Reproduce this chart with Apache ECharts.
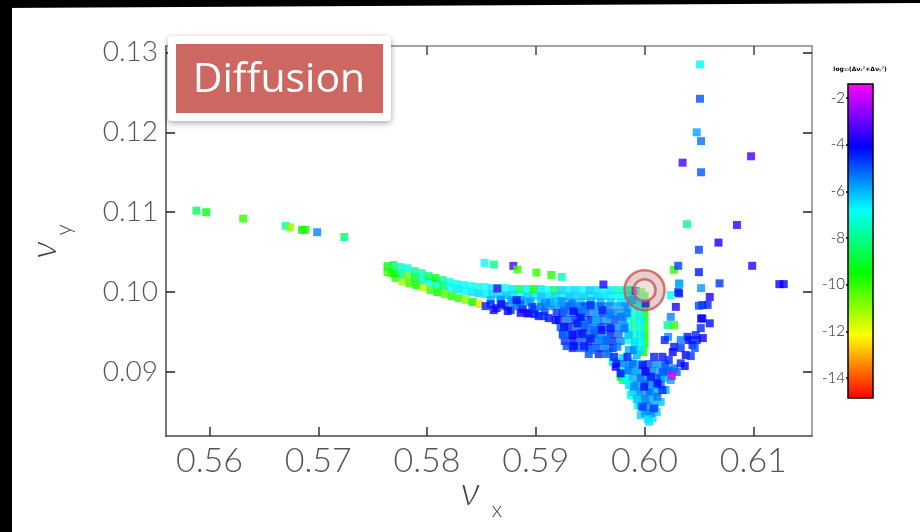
<!DOCTYPE html>
<html><head><meta charset="utf-8">
<script src="https://cdn.jsdelivr.net/npm/echarts@6/dist/echarts.min.js"></script>
<style>html,body{margin:0;padding:0;background:#fff}#c{width:920px;height:532px}</style>
</head><body><div id="c"></div>
<script>
// ---- tick labels ----
const xTicks = [0.56, 0.57, 0.58, 0.59, 0.60, 0.61];
const yTicks = [0.09, 0.10, 0.11, 0.12, 0.13];
const cbTicks = [-14, -12, -10, -8, -6, -4, -2];
const titleText = 'Diffusion';

// ---- data: [nu_x, nu_y, log10(dnu_x^2+dnu_y^2)] ----
const tailPts = [
  [0.5588,0.1102,-8.5],[0.5597,0.1100,-9.2],[0.5631,0.1092,-10],[0.5670,0.1083,-7.5],[0.5674,0.1081,-11],
  [0.5685,0.1078,-9.5],[0.5688,0.1078,-9.6],[0.5699,0.1075,-5.5],[0.5724,0.1069,-8.3]
];
const bandRowA = [
  [0.57637,0.10325,-9.5],[0.57693,0.10338,-8.5],[0.57757,0.10313,-7.5],[0.57821,0.1030,-7],[0.57886,0.10263,-8],
  [0.5795,0.10238,-7.5],[0.58015,0.102,-8.5],[0.58079,0.10175,-9.5],[0.58143,0.1015,-8],[0.58208,0.10125,-7],
  [0.58272,0.101,-6.8],[0.58336,0.10088,-7],[0.58401,0.10075,-6.8],[0.58465,0.10063,-7.2],[0.5853,0.10063,-6.8],
  [0.58594,0.1005,-6.5],[0.58658,0.1005,-7.5],[0.58723,0.1005,-6.8],[0.58787,0.10038,-6.5],[0.58852,0.10038,-8.5],
  [0.58916,0.10038,-6.7],[0.5898,0.10038,-9.5],[0.59045,0.10038,-6.5],[0.5911,0.10025,-6.8],[0.59174,0.10025,-8.5],
  [0.59238,0.10025,-6.3],[0.59303,0.10025,-6.6],[0.59367,0.10025,-6.4],[0.59432,0.10025,-6.8],[0.59496,0.10025,-6.2],
  [0.5956,0.10025,-6.5],[0.59625,0.10025,-7],[0.59689,0.10025,-6.5],[0.59754,0.10025,-7.5],[0.59818,0.10025,-7],
  [0.59882,0.10025,-8]
];
const bandRowB = [
  [0.57637,0.1025,-10],[0.57702,0.10238,-9.5],[0.57766,0.10225,-8],[0.57831,0.102,-10.5],[0.57895,0.10175,-9],
  [0.5796,0.1015,-7.5],[0.58024,0.10125,-7],[0.58088,0.101,-7.5],[0.58153,0.10075,-8.5],[0.58217,0.1005,-7],
  [0.58282,0.10038,-6.5],[0.58346,0.10013,-6.8],[0.5841,0.1,-6.5],[0.58475,0.09988,-6.3],[0.58539,0.09975,-6.6],
  [0.58604,0.09975,-6.2],[0.58668,0.09963,-6.5],[0.58732,0.09963,-6],[0.58797,0.09963,-6.4],[0.58861,0.09963,-6.8],
  [0.58926,0.0995,-6.2],[0.5899,0.0995,-6.5],[0.59054,0.0995,-6],[0.59119,0.0995,-6.4],[0.59183,0.0995,-6.2],
  [0.59248,0.0995,-6.6],[0.59312,0.0995,-6],[0.59376,0.0995,-6.3],[0.59441,0.0995,-6.1],[0.59505,0.0995,-6.5],
  [0.5957,0.0995,-6.2],[0.59634,0.0995,-6.4],[0.59698,0.0995,-6.6],[0.59763,0.0995,-6.8],[0.59827,0.0995,-7],
  [0.59892,0.0995,-6.5]
];
const bandRowC = [
  [0.57711,0.10175,-10],[0.57776,0.10138,-11],[0.5784,0.10113,-10],[0.57904,0.10088,-9.5],[0.57969,0.10063,-11.5],
  [0.58033,0.10025,-10],[0.58098,0.1,-9.5],[0.58162,0.09975,-10.5],[0.58226,0.0995,-9.8],[0.58291,0.09925,-10],
  [0.58355,0.099,-11],[0.5842,0.09875,-9.5],[0.58484,0.0985,-12.5],[0.5767,0.1024,-10.5]
];
const bandRowD = [
  [0.58585,0.099,-6],[0.58677,0.09913,-6.2],[0.58769,0.099,-6],[0.58861,0.099,-5.8],[0.58953,0.09888,-6],
  [0.59045,0.09888,-6.3],[0.59137,0.09875,-6],[0.59229,0.09888,-5.8],[0.59321,0.09875,-6],[0.59413,0.09875,-6.2],
  [0.59505,0.09888,-6],[0.59597,0.09875,-6],[0.59689,0.09875,-6.3],[0.59781,0.09875,-6.5],[0.59873,0.09875,-6.8],
  [0.59947,0.099,-7]
];
const aboveBandPts = [
  [0.5853,0.10366,-6.8],[0.58615,0.10346,-8],[0.58794,0.10329,-3.3],[0.58831,0.10284,-10],[0.59006,0.10246,-10],
  [0.59144,0.10216,-9.8],[0.59238,0.10191,-7.5],[0.58647,0.10046,-3.3],[0.59622,0.10096,-3.7]
];
const stemGreenPts = [
  [0.6000,0.0995,-9.5],[0.6000,0.0985,-10],[0.6000,0.0975,-9.5],[0.6000,0.0965,-9],[0.6000,0.0955,-9.8],
  [0.6000,0.0945,-9.5],[0.6000,0.0935,-9.2],[0.5999,0.0925,-9.6]
];
const stemPts = [
  [0.5985,0.099,-6.5],[0.5985,0.098,-6],[0.5985,0.097,-6.5],[0.5985,0.096,-7],[0.5985,0.095,-6.5],[0.5985,0.094,-7],
  [0.5991,0.099,-6.8],[0.5991,0.098,-7],[0.5991,0.097,-7.5],[0.5991,0.096,-8],[0.5991,0.095,-7.5],[0.5991,0.094,-8],
  [0.5996,0.0993,-6.6],[0.5996,0.0985,-7],[0.5996,0.0977,-6.8],[0.5996,0.0969,-7.2],[0.5996,0.0961,-6.7],
  [0.5996,0.0953,-7],[0.5996,0.0945,-6.6],[0.5996,0.0937,-6.9],[0.5991,0.093,-7.2]
];
const vFillPts = [
  [0.59873,0.08838,-6.5],[0.59947,0.0875,-6],[0.60011,0.0865,-5.8],[0.60057,0.0875,-6],[0.60103,0.08838,-5.5],
  [0.59965,0.08925,-6.2],[0.60039,0.08863,-5.7],[0.60149,0.08925,-5.5],[0.60204,0.09,-6],[0.59919,0.09,-6.8],
  [0.59855,0.09075,-7.2],[0.59965,0.08463,-6.3],[0.60075,0.08425,-6.5],[0.60241,0.089,-5.8],[0.60195,0.08775,-6],
  [0.60149,0.08625,-6.2],[0.60112,0.085,-6.3],[0.5967,0.0925,-6.8],[0.59707,0.09125,-6.5],[0.598,0.089,-8],
  [0.59873,0.08713,-6.8],[0.59937,0.08588,-7],[0.59843,0.089,-7.5],[0.59781,0.08941,-9.5],[0.59935,0.08691,-6.5],
  [0.60026,0.08484,-5.5],[0.60042,0.08379,-6.5],
  [0.59744,0.09125,-6.4],[0.598,0.09175,-6.3],[0.59836,0.09025,-6.6],[0.59855,0.09463,-6.2],[0.5991,0.09375,-6.5],
  [0.59855,0.09275,-5.9],[0.59892,0.09125,-6.8],[0.59928,0.09213,-6.0]
];
const blobPts = [
  [0.58585,0.0985,-4.6],[0.5864,0.098,-4.2],[0.58714,0.09825,-5.0],[0.58769,0.09775,-4.4],[0.58824,0.09825,-5.3],
  [0.5888,0.09788,-4.1],[0.58935,0.09738,-4.5],[0.5899,0.09788,-5.2],[0.59027,0.097,-4.3],[0.59082,0.09763,-4.8],
  [0.59119,0.09675,-4.2],[0.59156,0.09825,-5.5],[0.59192,0.09738,-4.6],[0.58788,0.09875,-5.6],[0.58935,0.09875,-5.8],
  [0.59082,0.09863,-5.6],[0.58677,0.099,-5.7],[0.58861,0.0985,-5.1],
  [0.59229,0.09825,-5.5],[0.59303,0.09825,-4.8],[0.59376,0.09825,-5.4],[0.5945,0.09825,-4.6],[0.59524,0.09825,-5.7],
  [0.59597,0.09825,-5.1],[0.59671,0.09825,-5.5],[0.59744,0.09825,-5.9],[0.59818,0.09825,-5.6],
  [0.59248,0.09738,-4.5],[0.59321,0.09738,-5.3],[0.59395,0.09738,-4.3],[0.59468,0.09738,-5.1],[0.59542,0.09738,-5.5],
  [0.59616,0.09738,-4.6],[0.59689,0.09738,-5.2],[0.59763,0.09738,-5.7],[0.59836,0.09738,-5.4],
  [0.5921,0.0965,-4.3],[0.59285,0.0965,-5.2],[0.59358,0.0965,-4.6],[0.59432,0.0965,-5.4],[0.59505,0.0965,-4.2],
  [0.59579,0.0965,-5.0],[0.59652,0.0965,-5.6],[0.59726,0.0965,-4.8],[0.598,0.0965,-5.5],
  [0.59229,0.09563,-4.9],[0.59303,0.09563,-4.3],[0.59376,0.09563,-5.2],[0.5945,0.09563,-4.5],[0.59524,0.09563,-5.3],
  [0.59597,0.09563,-4.5],[0.59671,0.09563,-5.0],[0.59744,0.09563,-5.6],[0.59818,0.09563,-5.8],
  [0.59248,0.09475,-4.4],[0.59321,0.09475,-5.0],[0.59395,0.09475,-4.2],[0.59468,0.09475,-5.1],[0.59542,0.09475,-4.6],
  [0.59616,0.09475,-5.4],[0.59689,0.09475,-4.4],[0.59763,0.09475,-5.2],
  [0.59266,0.09388,-4.6],[0.5934,0.09388,-4.2],[0.59413,0.09388,-4.9],[0.59487,0.09388,-4.4],[0.5956,0.09388,-5.2],
  [0.59634,0.09388,-4.8],[0.59708,0.09388,-4.5],[0.59781,0.09388,-5.5],
  [0.5934,0.093,-4.5],[0.59413,0.093,-5.1],[0.59487,0.093,-4.3],[0.5956,0.093,-4.8],[0.59634,0.093,-5.3],
  [0.59708,0.093,-4.4],[0.59487,0.09225,-4.9],[0.59579,0.09225,-4.5],[0.59652,0.09225,-5.1]
];
const vDensePts = [
  [0.59744,0.091,-4.4],[0.59818,0.091,-5.4],[0.59892,0.091,-5.0],[0.59965,0.091,-6.0],[0.60039,0.091,-4.8],
  [0.60112,0.091,-5.6],[0.60186,0.091,-5.0],
  [0.59781,0.09013,-6.8],[0.59855,0.09013,-5.2],[0.59928,0.09013,-5.8],[0.60002,0.09013,-4.6],[0.60076,0.09013,-5.4],
  [0.60149,0.09013,-5.9],[0.60223,0.09013,-4.9],
  [0.59818,0.08925,-7.0],[0.59892,0.08925,-5.9],[0.59965,0.08925,-5.2],[0.60039,0.08925,-5.6],[0.60112,0.08925,-4.8],
  [0.60186,0.08925,-6.0],
  [0.59855,0.08838,-6.6],[0.59928,0.08838,-5.6],[0.60002,0.08838,-5.0],[0.60076,0.08838,-5.8],[0.60149,0.08838,-5.2],
  [0.59892,0.0875,-6.4],[0.59965,0.0875,-5.7],[0.60039,0.0875,-5.1],[0.60112,0.0875,-5.9],
  [0.59928,0.08663,-6.2],[0.60002,0.08663,-5.5],[0.60076,0.08663,-5.8],
  [0.59965,0.08575,-6.0],[0.60039,0.08575,-5.3],[0.60094,0.08575,-6.2],
  [0.60002,0.08488,-5.8],[0.60057,0.08488,-5.5],[0.6003,0.08413,-6.5]
];
const clusterPts = [
  [0.58684,0.0985,-3.9],[0.58824,0.099,-4.2],[0.58861,0.09741,-4],[0.58923,0.09734,-3.9],[0.5899,0.09725,-4.3],
  [0.5907,0.097,-4.5],[0.58968,0.09816,-4.6],[0.59051,0.09816,-5.3],[0.59131,0.09866,-5.5],[0.59183,0.0965,-4.2],
  [0.5926,0.09566,-4.3],[0.59337,0.09463,-4.1],[0.59254,0.09463,-5.2],[0.59284,0.09325,-4.8],[0.59352,0.09325,-4.2],
  [0.59429,0.09484,-4.3],[0.59444,0.09325,-4.4],[0.59521,0.09275,-5.4],[0.59505,0.09421,-4.4],[0.59597,0.094,-5.5],
  [0.59659,0.094,-5.2],[0.59603,0.09525,-4.2],[0.59689,0.09546,-4.4],[0.59536,0.09525,-5.2],[0.59383,0.09609,-4.3],
  [0.59459,0.09609,-5.3],[0.59413,0.09691,-4.2],[0.59346,0.09766,-4.1],[0.5926,0.09775,-5.2],[0.59429,0.09775,-5.4],
  [0.59505,0.09838,-4.5],[0.59613,0.09775,-4.5],[0.59689,0.09713,-5.4],[0.59551,0.0965,-6],[0.59337,0.09859,-5.4],
  [0.59245,0.09879,-5.7],[0.59168,0.09879,-6.2],[0.59781,0.09691,-5.3],[0.59812,0.09546,-5.3],[0.59751,0.09316,-5.3],
  [0.5972,0.09191,-4.3],[0.59735,0.09066,-4],[0.59781,0.08984,-4.2],[0.59843,0.09191,-4.3],[0.59904,0.09275,-5.5],
  [0.59965,0.09275,-6.5],[0.59981,0.09088,-4.1],[0.60011,0.09004,-4],[0.60057,0.08941,-4.3],[0.60119,0.08859,-4],
  [0.60088,0.09191,-4.4],[0.60165,0.09191,-4.3],[0.60195,0.09066,-5.2],[0.60272,0.09046,-5.2],[0.60333,0.09109,-4.4],
  [0.60379,0.09213,-4],[0.60441,0.09338,-4.4],[0.60471,0.09463,-4.5],[0.60395,0.09441,-4.3],[0.60333,0.094,-5.4],
  [0.60272,0.09316,-4.4],[0.60217,0.09441,-5.6],[0.60272,0.09588,-10],[0.60211,0.09588,-8],[0.60288,0.09816,-3.8],
  [0.60241,0.09691,-5.5],[0.60318,0.09984,-4.3],[0.60318,0.10109,-5.7],[0.60241,0.09963,-6.8],[0.60532,0.09838,-4.5],
  [0.60532,0.09671,-4],[0.58539,0.09825,-4.4],[0.58613,0.09775,-3.9],[0.58742,0.09763,-4],
  [0.59981,0.08566,-4.6],[0.60088,0.08546,-4.7],[0.60119,0.08691,-5.3],[0.59996,0.08816,-4.3],[0.59904,0.08816,-5.5],
  [0.60165,0.08775,-4.5],[0.59919,0.10016,-4],[0.60011,0.09859,-4.2],[0.59888,0.099,-6],[0.5997,0.1,-10],
  [0.60186,0.094,-4.4],[0.6026,0.0925,-4.0],[0.60333,0.093,-4.6],[0.60407,0.094,-4.2],[0.60462,0.093,-5.0],
  [0.60223,0.0915,-4.5],[0.60296,0.09,-5.2],[0.6037,0.09075,-4.1],[0.60425,0.092,-4.6],[0.6048,0.094,-4.3],
  [0.60168,0.09,-5.0],[0.60517,0.0955,-4.5],[0.60536,0.09425,-4.0]
];
const outerPts = [
  [0.6051,0.1285,-7],[0.6051,0.1242,-5],[0.6048,0.1200,-5.8],[0.6052,0.1189,-5.3],[0.6035,0.1162,-3.4],
  [0.6098,0.1170,-3.4],[0.6052,0.1150,-5],[0.6039,0.1085,-8],[0.6085,0.1084,-3.6],[0.6068,0.1062,-3.9],
  [0.6050,0.1053,-4.8],[0.6027,0.1028,-10],[0.6031,0.1033,-4.8],[0.6050,0.1025,-4.3],[0.6099,0.1033,-3.7],
  [0.6069,0.1011,-4.6],[0.6124,0.1010,-4.0],[0.6128,0.1010,-4.1],[0.6052,0.1005,-5.7],[0.6032,0.1010,-6],
  [0.6060,0.0994,-3.8],[0.6031,0.1000,-4.5],[0.6050,0.0983,-4.8],[0.6058,0.0984,-4.5],[0.6052,0.0967,-4],
  [0.6060,0.0961,-4.2]
];
const hotPts = [[0.60251,0.0895,-1.8]];
const ringCenter = [0.6000, 0.10025];

const allPts = [].concat(tailPts, bandRowC, bandRowB, bandRowA, bandRowD, stemGreenPts, stemPts, vFillPts,
  aboveBandPts, blobPts, vDensePts, clusterPts, outerPts, hotPts);

const chart = echarts.init(document.getElementById('c'));
const lbl = {fontFamily: 'Lato', fontWeight: 300, color: '#555'};
const fmt2 = v => Number(v).toFixed(2);
chart.setOption({
  animation: false,
  backgroundColor: '#fff',
  grid: [
    {left: 166, top: 46, width: 646, height: 390},
    {left: 848, top: 84, width: 25, height: 314}
  ],
  xAxis: [
    {type: 'value', gridIndex: 0, min: 0.556, max: 0.6154, position: 'bottom',
     axisLine: {show: true, lineStyle: {color: '#444', width: 1.5}},
     axisTick: {show: true, inside: true, length: 9, customValues: xTicks, lineStyle: {color: '#333', width: 1.5}},
     axisLabel: Object.assign({customValues: xTicks, formatter: fmt2, fontSize: 34, margin: 8}, lbl),
     splitLine: {show: false}},
    {type: 'value', gridIndex: 0, min: 0.556, max: 0.6154, position: 'top',
     axisLine: {show: true, lineStyle: {color: '#888', width: 1.5}},
     axisTick: {show: true, inside: true, length: 9, customValues: xTicks, lineStyle: {color: '#444', width: 1.5}},
     axisLabel: {show: false}, splitLine: {show: false}},
    {type: 'value', gridIndex: 1, min: 0, max: 1, show: false}
  ],
  yAxis: [
    {type: 'value', gridIndex: 0, min: 0.082, max: 0.1308, position: 'left',
     axisLine: {show: true, lineStyle: {color: '#777', width: 2}},
     axisTick: {show: true, inside: true, length: 9, customValues: yTicks, lineStyle: {color: '#222', width: 1.5}},
     axisLabel: Object.assign({customValues: yTicks, formatter: fmt2, fontSize: 28, margin: 8}, lbl),
     splitLine: {show: false}},
    {type: 'value', gridIndex: 0, min: 0.082, max: 0.1308, position: 'right',
     axisLine: {show: true, lineStyle: {color: '#888', width: 1.5}},
     axisTick: {show: true, inside: true, length: 9, customValues: yTicks, lineStyle: {color: '#222', width: 1.5}},
     axisLabel: {show: false}, splitLine: {show: false}},
    {type: 'value', gridIndex: 1, min: -14.86, max: -1.4, position: 'left',
     axisLine: {show: false},
     axisTick: {show: true, inside: false, length: 2, customValues: cbTicks, lineStyle: {color: '#000', width: 1.5}},
     axisLabel: {customValues: cbTicks, fontSize: 15, fontFamily: 'Lato', fontWeight: 300, color: '#222', margin: 3},
     splitLine: {show: false}}
  ],
  visualMap: {
    type: 'continuous', min: -14.86, max: -1.4, dimension: 2, seriesIndex: 0,
    left: 848, top: 84, itemWidth: 25, itemHeight: 314, padding: 0,
    calculable: false, hoverLink: false, text: null, showLabel: false,
    inRange: {color: ['#ff0000','#ff8000','#ffff00','#80ff00','#00ff00','#00ff80','#00ffff','#0080ff','#0000ff','#8000ff','#ff00ff']}
  },
  series: [
    {type: 'scatter', xAxisIndex: 0, yAxisIndex: 0, data: allPts, symbol: 'rect', symbolSize: 8,
     silent: true, emphasis: {disabled: true}, z: 2},
    {type: 'scatter', xAxisIndex: 0, yAxisIndex: 0, silent: true, emphasis: {disabled: true}, z: 5,
     data: [
       {value: ringCenter, symbol: 'circle', symbolSize: 40,
        itemStyle: {color: 'rgba(165,70,70,0.32)', borderColor: '#c9564f', borderWidth: 2.5}},
       {value: ringCenter, symbol: 'circle', symbolSize: 22,
        itemStyle: {color: 'rgba(255,255,255,0.45)', borderColor: '#c9564f', borderWidth: 2.5}}
     ]},
    {type: 'scatter', xAxisIndex: 2, yAxisIndex: 2, data: []}
  ],
  graphic: [
    {type: 'polygon', shape: {points: [[0,0],[920,0],[920,3],[0,8]]}, style: {fill: '#000'}, silent: true},
    {type: 'rect', shape: {x: 0, y: 0, width: 12, height: 532}, style: {fill: '#000'}, silent: true},
    {type: 'rect', shape: {x: 168, y: 36, width: 223, height: 85, r: 4}, z: 50,
     style: {fill: '#fff', shadowBlur: 6, shadowColor: 'rgba(0,0,0,0.35)', shadowOffsetY: 2}, silent: true},
    {type: 'rect', shape: {x: 176, y: 44, width: 207, height: 69}, z: 51, style: {fill: '#cd6761'}, silent: true},
    {type: 'text', x: 279, y: 80, z: 52, silent: true,
     style: {text: titleText, fill: '#fff', font: '41px "Open Sans"', align: 'center', verticalAlign: 'middle'}},
    {type: 'rect', shape: {x: 848, y: 84, width: 25, height: 314}, z: 60,
     style: {fill: 'none', stroke: '#000', lineWidth: 1.5}, silent: true},
    {type: 'text', x: 860, y: 69, z: 60, silent: true,
     style: {text: '{a|log}{s|10}{a|(Δν}{s|x}{p|2}{a|+Δν}{s|y}{p|2}{a|)}', align: 'center', verticalAlign: 'middle',
       rich: {a: {fontSize: 6, fontWeight: 'bold', fontFamily: 'DejaVu Sans', fill: '#000'},
              s: {fontSize: 4, fontFamily: 'DejaVu Sans', fill: '#000', verticalAlign: 'bottom'},
              p: {fontSize: 4, fontFamily: 'DejaVu Sans', fill: '#000', verticalAlign: 'top'}}}},
    {type: 'text', x: 470, y: 492, silent: true,
     style: {text: 'ν', font: 'italic 300 40px Lato', fill: '#444', align: 'center', verticalAlign: 'middle'}},
    {type: 'text', x: 497, y: 510, silent: true,
     style: {text: 'x', font: '300 22px Lato', fill: '#444', align: 'center', verticalAlign: 'middle'}},
    {type: 'text', x: 44, y: 250, rotation: Math.PI / 2, silent: true,
     style: {text: 'ν', font: 'italic 300 36px Lato', fill: '#444', align: 'center', verticalAlign: 'middle'}},
    {type: 'text', x: 64, y: 230, rotation: Math.PI / 2, silent: true,
     style: {text: 'y', font: '300 22px Lato', fill: '#444', align: 'center', verticalAlign: 'middle'}}
  ]
});
</script></body></html>
